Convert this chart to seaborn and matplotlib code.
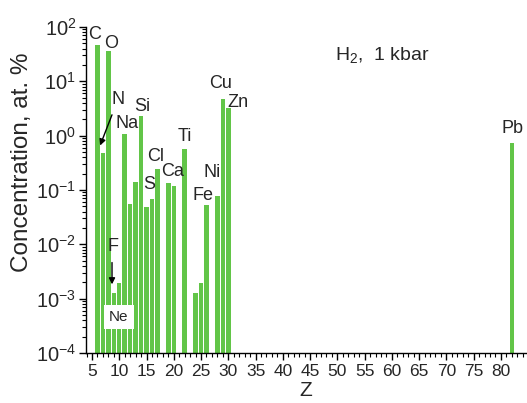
import matplotlib
matplotlib.use("Agg")
import matplotlib.pyplot as plt
import numpy as np
import pandas as pd
import seaborn as sns
from matplotlib.ticker import MultipleLocator, LogLocator, NullFormatter

# element data: atomic number, symbol, concentration (at. %)
z_vals = [6, 7, 8, 9, 10, 11, 12, 13, 14, 15, 16, 17, 19, 20, 22, 24, 25, 26, 28, 29, 30, 82]
symbols = ["C", "N", "O", "F", "Ne", "Na", "Mg", "Al", "Si", "P", "S", "Cl", "K", "Ca",
           "Ti", "Cr", "Mn", "Fe", "Ni", "Cu", "Zn", "Pb"]
conc = [46.6, 0.48, 36.0, 0.00126, 0.00193, 1.07, 0.055, 0.14, 2.3, 0.048, 0.068, 0.243,
        0.134, 0.118, 0.567, 0.00126, 0.00193, 0.053, 0.077, 4.72, 3.22, 0.73]

# labelled elements and where their text sits (Z, concentration)
label_txt = ["C", "O", "N", "Na", "Si", "Cl", "S", "Ca", "Ti", "Ni", "Fe", "Cu", "Zn", "F", "Pb"]
label_x = [5.55, 8.5, 9.8, 11.4, 14.2, 16.7, 15.5, 19.7, 22.1, 27.0, 25.4, 28.5, 31.8, 8.85, 82.2]
label_y = [74, 50, 4.7, 1.64, 3.5, 0.42, 0.128, 0.223, 0.98, 0.214, 0.08, 9.3, 4.16, 0.0093, 1.38]

green = "#62c548"

df = pd.DataFrame({"Z": z_vals, "conc": conc, "el": symbols})

sns.set_style("ticks")
plt.rcParams["font.family"] = ["Liberation Sans", "DejaVu Sans"]
plt.rcParams["mathtext.fontset"] = "custom"
plt.rcParams["mathtext.rm"] = "Liberation Sans"
plt.rcParams["mathtext.it"] = "Liberation Sans:italic"

fig = plt.figure(figsize=(5.27, 4.03), dpi=100)
ax = fig.add_axes([86/527, 50/403, 440/527, 326/403])

sns.barplot(data=df, x="Z", y="conc", native_scale=True, width=0.82,
            color=green, saturation=1, linewidth=0, ax=ax, zorder=2)
ax.set_yscale("log")
ax.set_ylim(1e-4, 1e2)
ax.set_xlim(3.9, 84.6)

ax.xaxis.set_major_locator(MultipleLocator(5))
ax.xaxis.set_minor_locator(MultipleLocator(1))
ax.xaxis.set_major_formatter(matplotlib.ticker.FormatStrFormatter("%d"))
ax.yaxis.set_major_locator(LogLocator(base=10, numticks=10))
ax.yaxis.set_minor_locator(LogLocator(base=10, subs=np.arange(2, 10), numticks=20))
ax.yaxis.set_minor_formatter(NullFormatter())

ax.tick_params(axis="both", which="major", direction="out", length=5, width=1, color="black")
ax.tick_params(axis="both", which="minor", direction="out", length=3, width=0.8, color="black")
ax.tick_params(axis="x", labelsize=12.5, pad=3)
ax.tick_params(axis="y", labelsize=14.5, pad=2)

sns.despine(ax=ax)
for sp in ["left", "bottom"]:
    ax.spines[sp].set_color("black")
    ax.spines[sp].set_linewidth(1)

ax.set_xlabel("Z", fontsize=15, labelpad=1)
ax.set_ylabel("Concentration, at. %", fontsize=17.5)
ax.yaxis.set_label_coords(-0.12, 0.585)

for t, x, y in zip(label_txt, label_x, label_y):
    ax.text(x, y, t, fontsize=13, ha="center", va="center", zorder=4)

ax.text(9.95, 0.000457, "Ne", fontsize=11, ha="center", va="center", zorder=5,
        bbox=dict(boxstyle="square,pad=0.35", facecolor="white", edgecolor="none"))

ax.annotate("", xy=(6.3, 0.59), xytext=(8.85, 2.7),
            arrowprops=dict(arrowstyle="-|>", color="black", lw=1, mutation_scale=9), zorder=4)
ax.annotate("", xy=(8.67, 0.00163), xytext=(8.67, 0.0052),
            arrowprops=dict(arrowstyle="-|>", color="black", lw=1, mutation_scale=9), zorder=4)

ax.text(49.6, 30.5, "H$_2$,  1 kbar", fontsize=14, ha="left", va="center")

fig.savefig("out.png", dpi=100)
